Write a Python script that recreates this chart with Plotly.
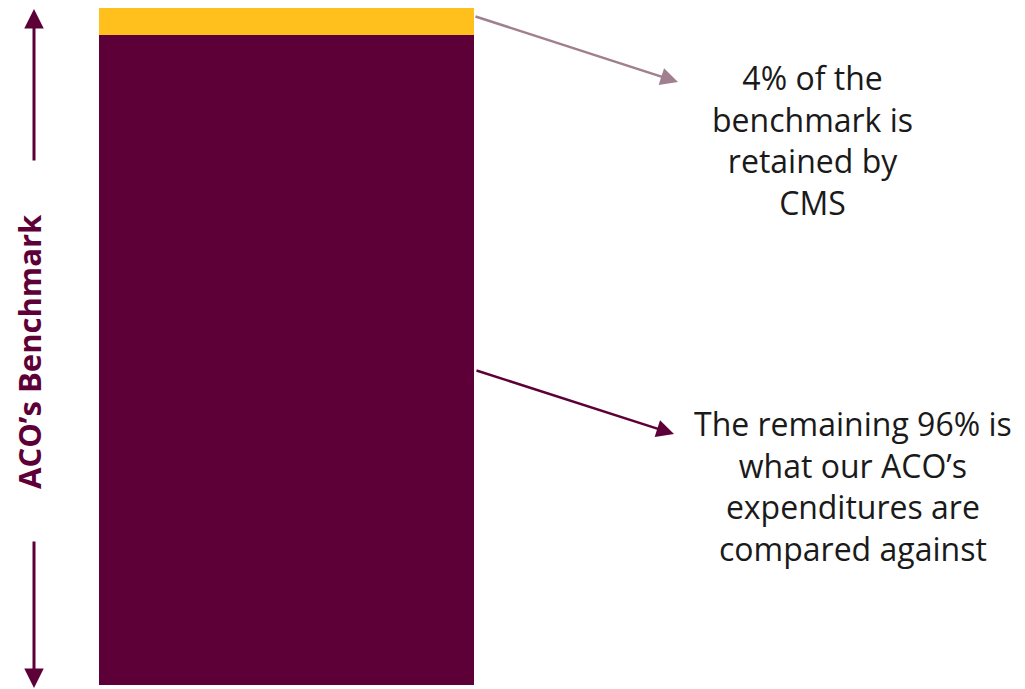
import plotly.graph_objects as go

categories = ["ACO's Benchmark"]
compared_share = [96]
retained_share = [4]
label_retained = "4% of the<br>benchmark is<br>retained by<br>CMS"
label_compared = "The remaining 96% is<br>what our ACO’s<br>expenditures are<br>compared against"
axis_label = "ACO’s Benchmark"

W, H = 1025, 689
PURPLE = "#5E0038"
YELLOW = "#FFC01D"
MAUVE = "#A07F8E"

fig = go.Figure()
fig.add_trace(go.Bar(x=categories, y=compared_share, marker=dict(color=PURPLE, line=dict(width=0)), width=1))
fig.add_trace(go.Bar(x=categories, y=retained_share, marker=dict(color=YELLOW, line=dict(width=0)), width=1))

bar_w_px = 375.0
bar_c_px = 286.5
xa = -bar_c_px / bar_w_px
xb = xa + W / bar_w_px
top_px, bot_px = 8.0, 685.0
ppu = (bot_px - top_px) / 100.0
ya = -(H - bot_px) / ppu
yb = 100 + top_px / ppu

fig.update_layout(
    barmode="stack", width=W, height=H,
    margin=dict(l=0, r=0, t=0, b=0, pad=0),
    paper_bgcolor="white", plot_bgcolor="white",
    showlegend=False, bargap=0,
    xaxis=dict(range=[xa, xb], visible=False, fixedrange=True),
    yaxis=dict(range=[ya, yb], visible=False, fixedrange=True),
)

def px(x):
    return x / W

def py(y):
    return 1 - y / H

def arrow(tip, tail, color, width=2.5, size=1.4):
    fig.add_annotation(
        x=px(tip[0]), y=py(tip[1]), xref="paper", yref="paper",
        ax=tail[0] - tip[0], ay=tail[1] - tip[1], axref="pixel", ayref="pixel",
        text="", showarrow=True, arrowhead=2, arrowsize=size, arrowwidth=width,
        arrowcolor=color, standoff=0, startstandoff=0,
    )

arrow((678, 82), (474, 16), MAUVE)
arrow((674, 434), (475, 370), PURPLE)
arrow((34, 9), (34, 162), PURPLE, width=3, size=1.3)
arrow((34, 688), (34, 540), PURPLE, width=3, size=1.3)

txt_font = dict(family="'Open Sans', Lato, sans-serif", size=32, color="#1A1A1A")
fig.add_annotation(x=px(812), y=py(140), xref="paper", yref="paper", text=label_retained,
                   showarrow=False, font=txt_font, align="center", xanchor="center", yanchor="middle")
fig.add_annotation(x=px(853), y=py(486), xref="paper", yref="paper", text=label_compared,
                   showarrow=False, font=txt_font, align="center", xanchor="center", yanchor="middle")
fig.add_annotation(x=px(29), y=py(352), xref="paper", yref="paper", text="<b>" + axis_label + "</b>",
                   showarrow=False, textangle=-90,
                   font=dict(family="'Open Sans', Lato, sans-serif", size=31, color=PURPLE),
                   xanchor="center", yanchor="middle")

fig.write_html("out.html")
